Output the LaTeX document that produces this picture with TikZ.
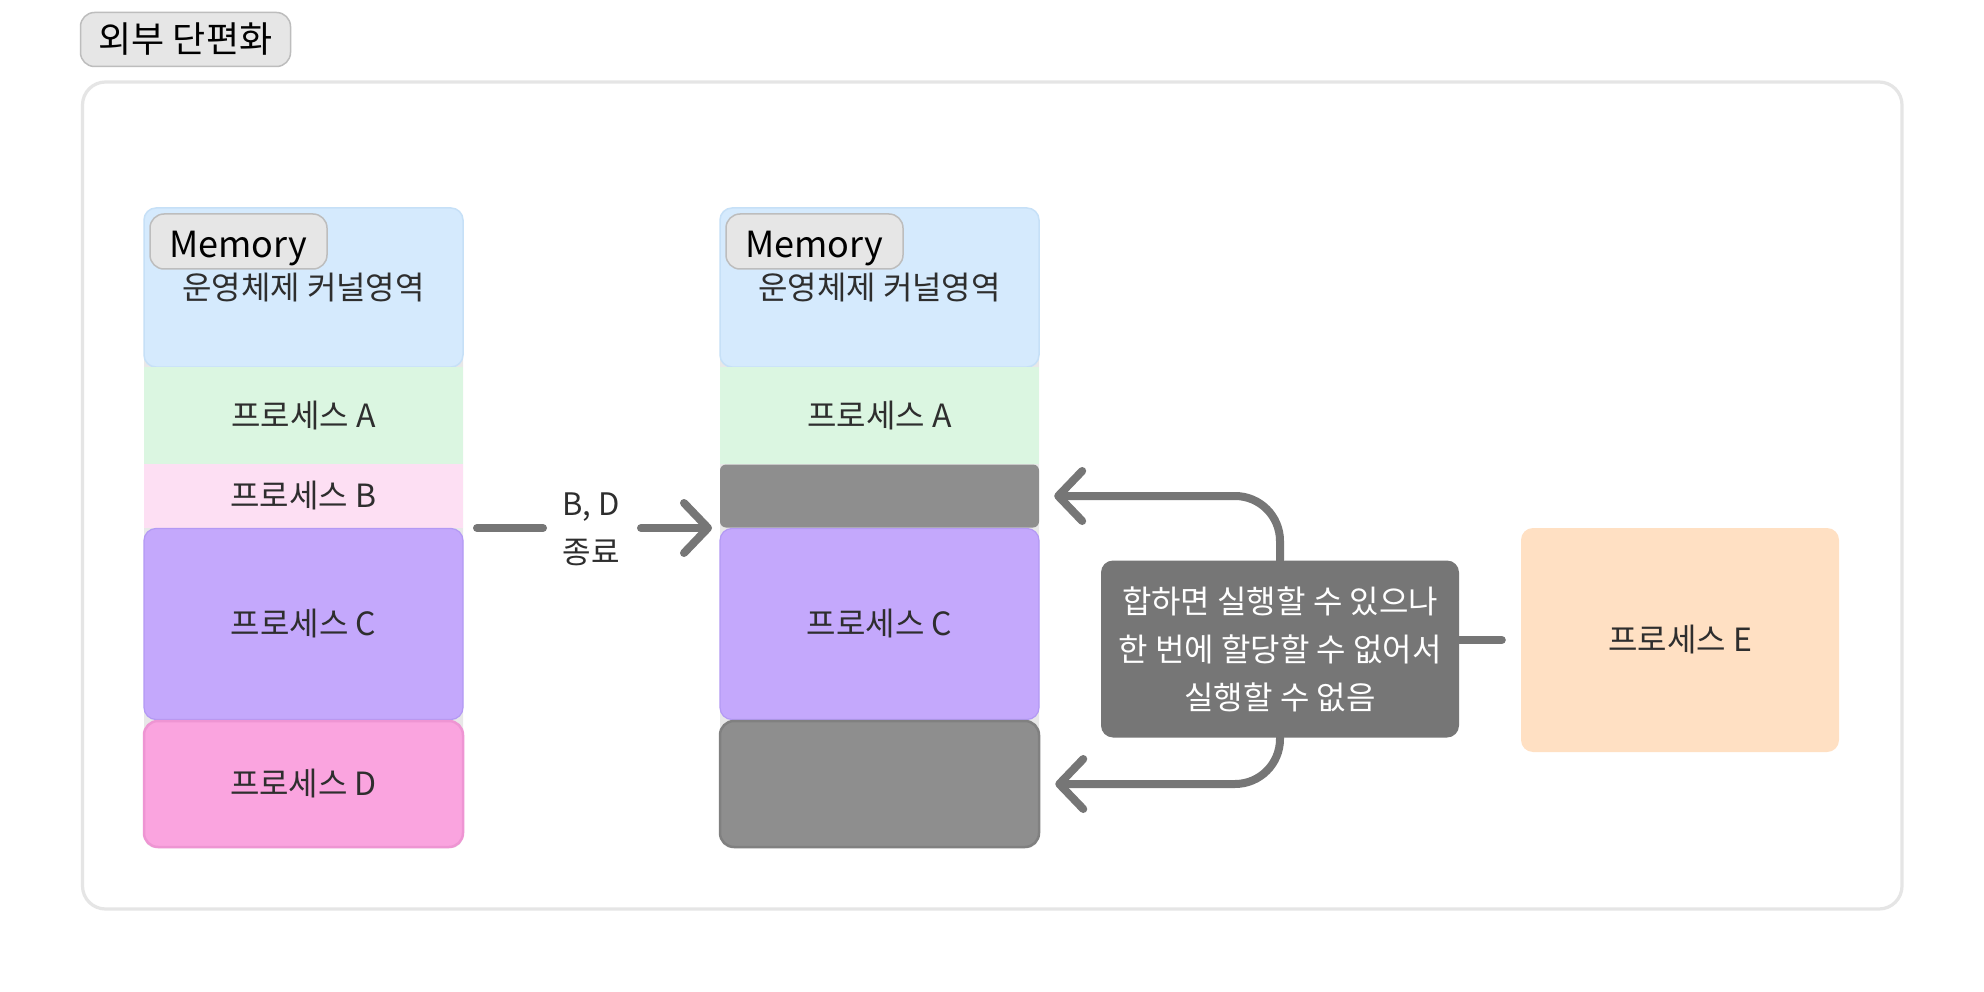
\documentclass[tikz,border=0pt]{standalone}
\usepackage{fontspec}
\setmainfont{Noto Sans CJK KR}
\usetikzlibrary{arrows.meta}
\definecolor{outerline}{HTML}{E5E5E5}
\definecolor{tagfill}{HTML}{E6E6E6}
\definecolor{tagline}{HTML}{BDBDBD}
\definecolor{kernfill}{HTML}{D5EAFD}
\definecolor{kernline}{HTML}{C6E0F7}
\definecolor{afill}{HTML}{DBF6E1}
\definecolor{bfill}{HTML}{FDDFF3}
\definecolor{cfill}{HTML}{C4A8FC}
\definecolor{cline}{HTML}{B399F4}
\definecolor{dfill}{HTML}{FAA4DF}
\definecolor{dline}{HTML}{EE95D3}
\definecolor{gapfill}{HTML}{8E8E8E}
\definecolor{gapline}{HTML}{808080}
\definecolor{notefill}{HTML}{767676}
\definecolor{efill}{HTML}{FFE0C3}
\definecolor{conncol}{HTML}{767676}
\definecolor{txt}{HTML}{2E2E2E}
\definecolor{colbg}{HTML}{E8E8E8}
\tikzset{
  blk/.style={rectangle, inner sep=0pt, minimum width=319pt, text=txt,
    font=\fontsize{32}{38}\selectfont},
  tag/.style={rectangle, rounded corners=14pt, fill=tagfill, draw=tagline,
    line width=1.5pt, inner sep=0pt, text=black},
  conn/.style={draw=conncol, line width=8pt, line cap=round, line join=round},
  tip/.style={-{Straight Barb[length=24pt,width=50pt,round]}},
}
\begin{document}
\begin{tikzpicture}[x=1pt,y=-1pt]
\useasboundingbox (0,0) rectangle (1984,992);
\fill[white] (0,0) rectangle (1984,992);

% title and frame
\node[tag, minimum width=210pt, minimum height=54pt,
  font=\fontsize{36}{40}\selectfont] (title) at (185.5,39.5) {외부 단편화};
\draw[outerline, line width=3.2pt, rounded corners=23pt] (82.5,82) rectangle (1902,909);

% left memory column
\fill[colbg, rounded corners=12pt] (144,208) rectangle (463,848);
\node[blk, minimum height=159pt, fill=kernfill, draw=kernline, line width=1.5pt,
  rounded corners=12pt] (kL) at (303.5,287.5) {운영체제 커널영역};
\node[blk, minimum height=97pt, fill=afill] (aL) at (303.5,415.5) {프로세스 A};
\node[blk, minimum height=64pt, fill=bfill] (bL) at (303.5,496) {프로세스 B};
\node[blk, minimum height=191pt, fill=cfill, draw=cline, line width=1.2pt,
  rounded corners=12pt] (cL) at (303.5,624) {프로세스 C};
\node[blk, minimum height=126pt, fill=dfill, draw=dline, line width=2.5pt,
  rounded corners=14pt] (dL) at (303.5,784) {프로세스 D};
\node[tag, minimum width=177pt, minimum height=55pt,
  font=\fontsize{36}{40}\selectfont] (memL) at (238.5,241.5)
  {\raisebox{-16pt}[0pt][0pt]{Memory}};

% right memory column
\fill[colbg, rounded corners=12pt] (720,208) rectangle (1039,848);
\node[blk, minimum height=159pt, fill=kernfill, draw=kernline, line width=1.5pt,
  rounded corners=12pt] (kR) at (879.5,287.5) {운영체제 커널영역};
\node[blk, minimum height=97pt, fill=afill] (aR) at (879.5,415.5) {프로세스 A};
\node[blk, minimum height=63pt, fill=gapfill, rounded corners=6pt] (g1) at (879.5,496) {};
\node[blk, minimum height=191pt, fill=cfill, draw=cline, line width=1.2pt,
  rounded corners=12pt] (cR) at (879.5,624) {프로세스 C};
\node[blk, minimum height=126pt, fill=gapfill, draw=gapline, line width=2.5pt,
  rounded corners=14pt] (g2) at (879.5,784) {};
\node[tag, minimum width=177pt, minimum height=55pt,
  font=\fontsize{36}{40}\selectfont] (memR) at (814.5,241.5)
  {\raisebox{-16pt}[0pt][0pt]{Memory}};

% B, D termination arrow
\node[align=center, text=txt, inner sep=0pt,
  font=\fontsize{31}{48}\selectfont] (bd) at (591,529) {B, D\\종료};
\coordinate (bd1s) at (477,528);
\coordinate (bd1e) at (543,528);
\coordinate (bd2s) at (641,528);
\coordinate (bd2e) at (712,528);
\draw[conn] (bd1s) -- (bd1e);
\draw[conn, tip] (bd2s) -- (bd2e);

% note and process E
\node[rectangle, rounded corners=12pt, fill=notefill, minimum width=358pt,
  minimum height=177pt, inner sep=0pt, text=white, align=center,
  font=\fontsize{32}{48}\selectfont] (note) at (1280,649)
  {합하면 실행할 수 있으나\\한 번에 할당할 수 없어서\\실행할 수 없음};
\node[rectangle, rounded corners=12pt, fill=efill, minimum width=318pt,
  minimum height=224pt, inner sep=0pt, text=txt,
  font=\fontsize{32}{38}\selectfont] (pE) at (1680,640) {프로세스 E};

\draw[conn, shorten >=19pt] (note.east |- pE.west) -- (pE.west);
\draw[conn, tip, rounded corners=45pt, shorten >=15pt] (note.north) |- (g1.east);
\draw[conn, tip, rounded corners=45pt, shorten >=15pt] (note.south) |- (g2.east);
\end{tikzpicture}
\end{document}
